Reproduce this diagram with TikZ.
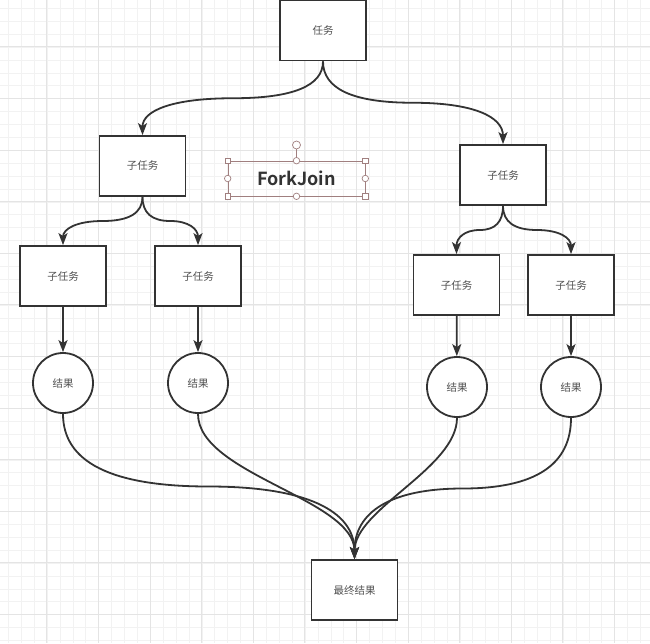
\documentclass[tikz,border=0pt]{standalone}
\usepackage{fontspec}
\setmainfont{Noto Sans CJK SC}[BoldFont={Noto Sans CJK SC Bold}]
\usetikzlibrary{arrows.meta,calc}
\definecolor{ink}{HTML}{333333}
\definecolor{gridminor}{HTML}{F2F2F2}
\definecolor{gridmajor}{HTML}{E4E4E4}
\definecolor{handle}{HTML}{A07F7F}

\begin{document}
\begin{tikzpicture}[x=1pt, y=-1pt,
  taskbox/.style={draw=ink, line width=1.8pt, fill=white, minimum width=86pt, minimum height=60pt, inner sep=0pt, font=\fontsize{10.5}{12}\selectfont, text=ink!85},
  resultnode/.style={circle, draw=ink, line width=1.8pt, fill=white, minimum size=60pt, inner sep=0pt, font=\fontsize{10.5}{12}\selectfont, text=ink!85},
  arr/.style={-{Stealth[length=12pt,width=9pt,inset=3pt]}, line width=1.8pt, draw=ink},
  swoop/.style={to path={let \p1=(\tikztostart), \p2=(\tikztotarget), \p3=($(\p1)!0.5!(\p2)$) in
    .. controls ($(\p1)!2/3!(\x1,\y3)$) and ($(\p3)!2/3!(\x1,\y3)$) .. (\p3)
    .. controls ($(\p3)!2/3!(\x2,\y3)$) and ($(\p2)!2/3!(\x2,\y3)$) .. (\tikztotarget) \tikztonodes}},
  hsq/.style={draw=handle, fill=white, line width=0.7pt, minimum size=5.5pt, inner sep=0pt},
  hdot/.style={circle, draw=handle, fill=white, line width=0.7pt, minimum size=6.5pt, inner sep=0pt}
]
\useasboundingbox (0,0) rectangle (650,643);
\fill[white] (0,0) rectangle (650,643);
% canvas grid
\begin{scope}
\clip (0,0) rectangle (650,643);
\foreach \gx in {0,...,50} \draw[gridminor, line width=0.6pt] ({8.3+12.9*\gx},0) -- ({8.3+12.9*\gx},643);
\foreach \gy in {0,...,50} \draw[gridminor, line width=0.6pt] (0,{8.3+12.9*\gy}) -- (650,{8.3+12.9*\gy});
\foreach \gx in {0,...,13} \draw[gridmajor, line width=0.6pt] ({46.7+51.6*\gx},0) -- ({46.7+51.6*\gx},643);
\foreach \gy in {0,...,13} \draw[gridmajor, line width=0.6pt] (0,{46.7+51.6*\gy}) -- (650,{46.7+51.6*\gy});
\end{scope}

\node[taskbox] (task) at (323,30.5) {任务};
\node[taskbox] (subL) at (142.5,166) {子任务};
\node[taskbox] (subR) at (503,175) {子任务};
\node[taskbox] (subLL) at (63,276) {子任务};
\node[taskbox] (subLR) at (198,276) {子任务};
\node[taskbox] (subRL) at (456.5,285) {子任务};
\node[taskbox] (subRR) at (571,285) {子任务};
\node[resultnode] (resLL) at (63,383) {结果};
\node[resultnode] (resLR) at (198,383) {结果};
\node[resultnode] (resRL) at (457,387) {结果};
\node[resultnode] (resRR) at (571,387) {结果};
\node[taskbox] (final) at (354.5,590) {最终结果};

% selected label
\node[draw=handle, line width=0.6pt, minimum width=137pt, minimum height=35pt, font=\bfseries\fontsize{18}{20}\selectfont, text=ink] (title) at (296.5,178.5) {ForkJoin};
\coordinate (rot) at (296.5,145);
\draw[handle, line width=0.7pt] (title.north) -- (rot);
\node[hdot, minimum size=8pt] at (rot) {};
\foreach \a in {north west,north east,south west,south east} \node[hsq] at (title.\a) {};
\foreach \a in {north,south,west,east} \node[hdot] at (title.\a) {};

% fork
\draw[arr] (task.south) to[swoop] (subL.north);
\draw[arr] (task.south) to[swoop] (subR.north);
\draw[arr] (subL.south) to[swoop] (subLL.north);
\draw[arr] (subL.south) to[swoop] (subLR.north);
\draw[arr] (subR.south) to[swoop] (subRL.north);
\draw[arr] (subR.south) to[swoop] (subRR.north);
\draw[arr] (subLL) -- (resLL);
\draw[arr] (subLR) -- (resLR);
\draw[arr] (subRL) -- (resRL);
\draw[arr] (subRR) -- (resRR);

% join
\draw[arr] (resLL.south) to[swoop] (final.north);
\draw[arr] (resLR.south) .. controls +(0,60) and +(0,-60) .. (final.north);
\draw[arr] (resRL.south) .. controls +(0,50) and +(0,-50) .. (final.north);
\draw[arr] (resRR.south) to[swoop] (final.north);
\end{tikzpicture}
\end{document}
